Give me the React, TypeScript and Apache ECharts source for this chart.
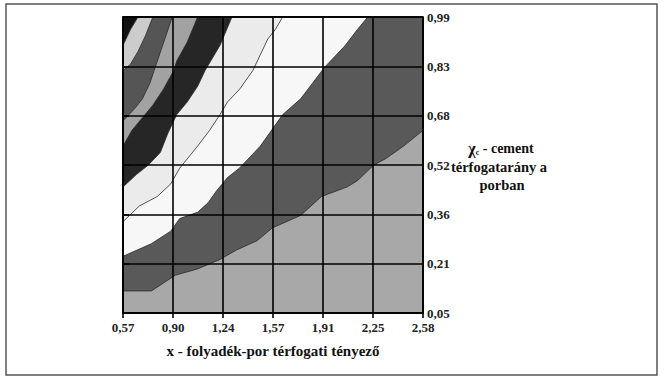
import React, { useEffect, useRef } from "react";
import * as echarts from "echarts";

// Axis tick labels (as printed, decimal comma)
const xTickLabels = ["0,57", "0,90", "1,24", "1,57", "1,91", "2,25", "2,58"];
const yTickLabels = ["0,05", "0,21", "0,36", "0,52", "0,68", "0,83", "0,99"];
const xRange = [0.57, 2.58];
const yRange = [0.05, 0.99];

// Contour boundaries in data units [x, y], each starting at the left edge
const boundaryA = [[0.57, 0.12], [0.76, 0.12], [0.92, 0.17], [1.07, 0.19], [1.22, 0.22], [1.33, 0.25], [1.47, 0.28], [1.57, 0.32], [1.76, 0.36], [1.9, 0.42], [2.07, 0.45], [2.14, 0.47], [2.25, 0.52], [2.33, 0.54], [2.45, 0.58], [2.58, 0.63]];
const boundaryB = [[0.57, 0.23], [0.76, 0.27], [0.89, 0.31], [0.95, 0.35], [1.07, 0.37], [1.14, 0.4], [1.2, 0.44], [1.27, 0.48], [1.35, 0.51], [1.49, 0.58], [1.64, 0.68], [1.76, 0.73], [1.84, 0.78], [1.92, 0.83], [2.06, 0.9], [2.14, 0.95], [2.21, 0.99]];
const boundaryC = [[0.57, 0.34], [0.68, 0.39], [0.8, 0.42], [0.89, 0.46], [0.95, 0.51], [1.07, 0.58], [1.15, 0.63], [1.22, 0.68], [1.27, 0.72], [1.35, 0.76], [1.44, 0.82], [1.49, 0.87], [1.54, 0.92], [1.59, 0.95], [1.64, 0.99]];
const boundaryD = [[0.57, 0.45], [0.66, 0.49], [0.74, 0.52], [0.82, 0.56], [0.87, 0.62], [0.93, 0.68], [1.0, 0.72], [1.07, 0.77], [1.12, 0.82], [1.22, 0.9], [1.3, 0.99]];
const boundaryE = [[0.57, 0.58], [0.63, 0.63], [0.7, 0.67], [0.77, 0.71], [0.84, 0.76], [0.91, 0.82], [0.93, 0.85], [1.0, 0.91], [1.07, 0.99]];
const boundaryF = [[0.57, 0.66], [0.65, 0.7], [0.7, 0.73], [0.75, 0.78], [0.8, 0.85], [0.85, 0.92], [0.9, 0.99]];
const boundaryG = [[0.57, 0.82], [0.62, 0.84], [0.67, 0.88], [0.72, 0.93], [0.77, 0.99]];
const boundaryH = [[0.57, 0.9], [0.62, 0.95], [0.67, 0.99]];

const boundaries = [null, boundaryA, boundaryB, boundaryC, boundaryD, boundaryE, boundaryF, boundaryG, boundaryH];
const bandColors = ["#a8a8a8", "#595959", "#f7f7f7", "#ebebeb", "#262626", "#a2a2a2", "#555555", "#cccccc", "#111111"];

const FONT = "'Liberation Serif', 'DejaVu Serif', serif";

const toAxisX = (x: number) => ((x - xRange[0]) / (xRange[1] - xRange[0])) * 6;
const toAxisY = (y: number) => ((y - yRange[0]) / (yRange[1] - yRange[0])) * 6;

function regionPolygon(boundary: number[][] | null): number[][] {
  if (!boundary) {
    return [[xRange[0], yRange[0]], [xRange[1], yRange[0]], [xRange[1], yRange[1]], [xRange[0], yRange[1]]];
  }
  const pts = boundary.slice();
  const last = pts[pts.length - 1];
  if (Math.abs(last[0] - xRange[1]) < 1e-6) pts.push([xRange[1], yRange[1]]);
  pts.push([xRange[0], yRange[1]]);
  return pts;
}

export default function App() {
  const ref = useRef<HTMLDivElement>(null);
  useEffect(() => {
    if (!ref.current) return;
    const chart = echarts.init(ref.current, null, { renderer: "svg" });
    const axisLineStyle = { color: "#000", width: 1.6 };
    chart.setOption({
      animation: false,
      backgroundColor: "#fff",
      grid: { left: 123, right: 241, top: 17, bottom: 65, show: true, borderColor: "#000", borderWidth: 1.6, z: 10 },
      xAxis: {
        type: "value",
        min: 0,
        max: 6,
        interval: 1,
        z: 10,
        axisLine: { show: true, lineStyle: axisLineStyle },
        axisTick: { show: true, length: 5, lineStyle: axisLineStyle },
        splitLine: { show: true, lineStyle: axisLineStyle },
        axisLabel: {
          formatter: (v: number) => xTickLabels[Math.round(v)] ?? "",
          margin: 8,
          fontFamily: FONT,
          fontSize: 13,
          fontWeight: "bold",
          color: "#222",
        },
        name: "x - folyadék-por térfogati tényező",
        nameLocation: "middle",
        nameGap: 30,
        nameTextStyle: { fontFamily: FONT, fontSize: 15, fontWeight: "bold", color: "#111" },
      },
      yAxis: {
        type: "value",
        position: "right",
        min: 0,
        max: 6,
        interval: 1,
        z: 10,
        axisLine: { show: true, lineStyle: axisLineStyle },
        axisTick: { show: true, length: 6, lineStyle: axisLineStyle },
        splitLine: { show: true, lineStyle: axisLineStyle },
        axisLabel: {
          formatter: (v: number) => yTickLabels[Math.round(v)] ?? "",
          margin: 4,
          fontFamily: FONT,
          fontSize: 13,
          fontWeight: "bold",
          color: "#222",
        },
      },
      series: [
        {
          type: "custom",
          coordinateSystem: "cartesian2d",
          silent: true,
          z: 2,
          data: bandColors.map((_, i) => [i, 0]),
          renderItem: (params: any, api: any) => {
            const i = params.dataIndex;
            const pts = regionPolygon(boundaries[i]).map(([x, y]) => api.coord([toAxisX(x), toAxisY(y)]));
            return {
              type: "polygon",
              shape: { points: pts },
              style: { fill: bandColors[i], stroke: "#2a2a2a", lineWidth: 0.8 },
            };
          },
        },
      ],
      graphic: [
        {
          type: "rect",
          shape: { x: 6, y: 4, width: 651, height: 371 },
          style: { fill: "none", stroke: "#555", lineWidth: 1.5 },
          z: 0,
        },
        {
          type: "text",
          x: 501,
          y: 148,
          style: {
            text: "{b|χ}{s|c}{n| - cement}",
            align: "center",
            verticalAlign: "middle",
            rich: {
              b: { fontFamily: FONT, fontSize: 16, fontWeight: "bold", fill: "#111" },
              s: { fontFamily: FONT, fontSize: 8, fontWeight: "bold", fill: "#111", padding: [8, 0, 0, 0] },
              n: { fontFamily: FONT, fontSize: 14, fontWeight: "bold", fill: "#111" },
            },
          },
        },
        {
          type: "text",
          x: 499,
          y: 167,
          style: {
            text: "térfogatarány a",
            align: "center",
            verticalAlign: "middle",
            fontFamily: FONT,
            fontSize: 14.5,
            fontWeight: "bold",
            fill: "#111",
          },
        },
        {
          type: "text",
          x: 502,
          y: 185,
          style: {
            text: "porban",
            align: "center",
            verticalAlign: "middle",
            fontFamily: FONT,
            fontSize: 14.5,
            fontWeight: "bold",
            fill: "#111",
          },
        },
      ],
    });
    return () => chart.dispose();
  }, []);
  return (
    <div
      ref={ref}
      style={{ position: "absolute", left: 0, top: 0, width: 664, height: 378, background: "#fff" }}
    />
  );
}
